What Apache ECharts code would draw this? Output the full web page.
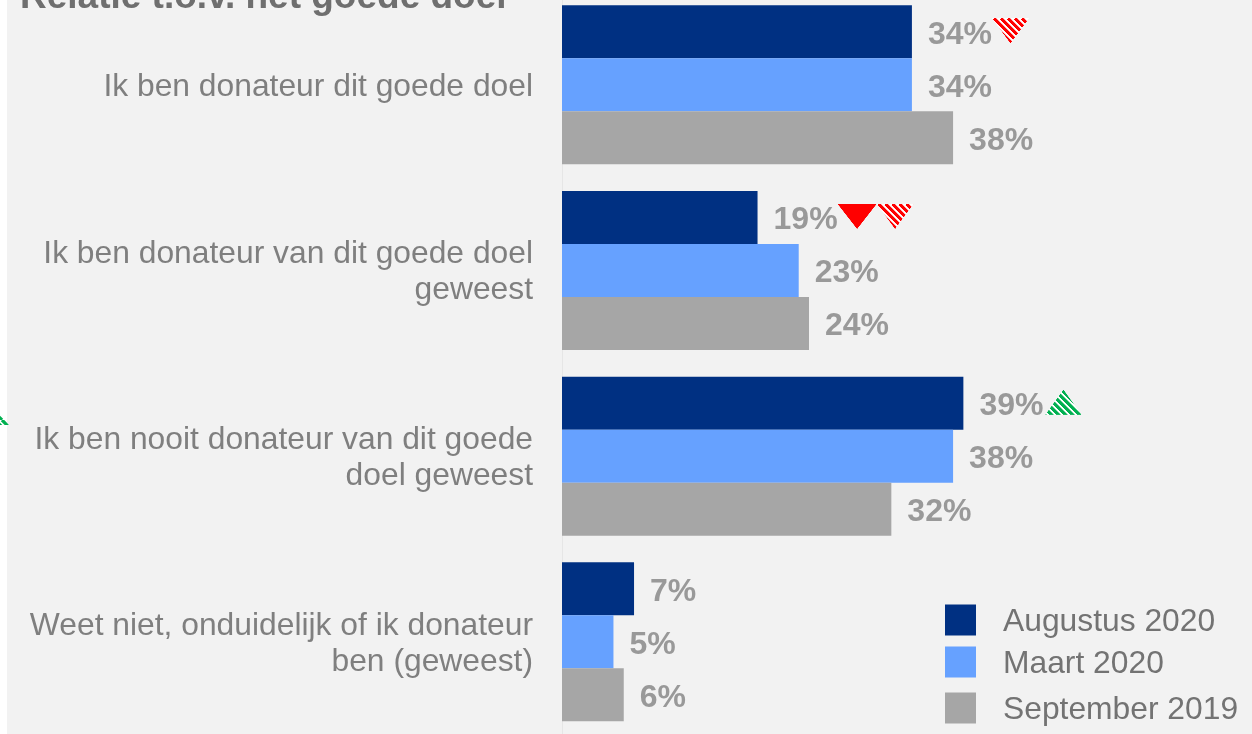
<!DOCTYPE html>
<html><head><meta charset="utf-8">
<style>html,body{margin:0;padding:0;background:#fff}#c{width:1252px;height:734px}</style>
<script src="https://cdn.jsdelivr.net/npm/echarts@6/dist/echarts.min.js"></script>
</head><body><div id="c"></div>
<script>
const categories = ['Ik ben donateur dit goede doel','Ik ben donateur van dit goede doel\ngeweest','Ik ben nooit donateur van dit goede\ndoel geweest','Weet niet, onduidelijk of ik donateur\nben (geweest)'];
const seriesNames = ['Augustus 2020','Maart 2020','September 2019'];
const augustus2020 = [34,19,39,7];
const maart2020 = [34,23,38,5];
const september2019 = [38,24,32,6];
const augustusMarkers = [['hatchDown'],['solidDown','hatchDown'],['hatchUp'],[]];
const colors = ['#003082','#66A1FF','#A6A6A6'];
const legendTops = [602,644,690];

function stripes(g,color,w,h){
  g.fillStyle='#fff';g.fillRect(0,0,w,h);
  g.strokeStyle=color;g.lineWidth=3.2;
  for(let x=2-7*8;x<w+h;x+=7){
    g.beginPath();g.moveTo(x,0);g.lineTo(x+h,h);g.stroke();
  }
}
function triangle(color, up, hatched, w, dx){
  const S=3, triH=25, h=33, total=w+dx;
  const c=document.createElement('canvas'); c.width=total*S; c.height=h*S;
  const g=c.getContext('2d'); g.scale(S,S); g.translate(dx,0);
  g.beginPath();
  if(up){g.moveTo(w/2,0);g.lineTo(w,triH);g.lineTo(0,triH);} else {g.moveTo(0,0);g.lineTo(w,0);g.lineTo(w/2,triH);}
  g.closePath(); g.clip();
  if(!hatched){g.fillStyle=color;g.fillRect(0,0,w,h);return c;}
  stripes(g,color,w,h);
  return c;
}
function patch(color){
  const c=document.createElement('canvas'); c.width=28; c.height=28;
  const g=c.getContext('2d'); stripes(g,color,28,28); return c;
}
const rich={
  v:{fontFamily:'Liberation Sans',fontWeight:'bold',fontSize:32,color:'#999999'},
  solidDown:{width:39,height:33,backgroundColor:{image:triangle('#FF0000',false,false,39,0)}},
  hatchDown:{width:37,height:33,backgroundColor:{image:triangle('#FF0000',false,true,37,0)}},
  hatchUp:{width:38,height:33,backgroundColor:{image:triangle('#00B050',true,true,36,2)}}
};
function bar(name,data,color,markers){
  return {name,type:'bar',data,barWidth:53,barGap:0,itemStyle:{color},
    label:{show:true,position:'right',distance:16,offset:[0,3],rich,
      formatter:p=>'{v|'+p.value+'%}'+((markers&&markers[p.dataIndex])||[]).map(m=>'{'+m+'|}').join('')}};
}
const chart=echarts.init(document.getElementById('c'),null,{renderer:'canvas'});
chart.setOption({
  animation:false,
  backgroundColor:'#fff',
  title:{text:'Relatie t.o.v. het goede doel',left:20,top:-21,padding:0,
    textStyle:{fontFamily:'Liberation Sans',fontWeight:'bold',fontSize:37,color:'#6F6F6F'}},
  graphic:[
    {type:'rect',z:-10,silent:true,shape:{x:7,y:0,width:1245,height:734},style:{fill:'#F2F2F2'}},
    {type:'polygon',z:-5,silent:true,shape:{points:[[-12,425],[0,414],[9,425]]},style:{fill:{type:'pattern',image:patch('#00B050'),repeat:'repeat'}}}
  ],
  legend:seriesNames.map((n,i)=>({data:[n],left:945,top:legendTops[i],orient:'vertical',padding:0,
    itemWidth:31,itemHeight:31,icon:'rect',selectedMode:false,
    formatter:t=>'{a|'+t+'}',
    textStyle:{rich:{a:{fontFamily:'Liberation Sans',fontSize:31.8,color:'#737373',lineHeight:36,padding:[4,0,0,22]}}}})),
  grid:{left:562,top:-8,width:617.5,height:742.6,outerBoundsMode:'none'},
  xAxis:{type:'value',min:0,max:60,show:false},
  yAxis:{type:'category',inverse:true,data:categories,
    axisTick:{show:false},
    axisLine:{show:true,lineStyle:{color:'#E6E6E6',width:1}},
    axisLabel:{margin:29,align:'right',
      formatter:v=>v.split('\n').map(l=>'{a|'+l+'}').join('\n'),
      rich:{a:{align:'right',fontFamily:'Liberation Sans',fontSize:31.8,lineHeight:36,color:'#7F7F7F',padding:[4,0,0,0]}}}},
  series:[bar(seriesNames[0],augustus2020,colors[0],augustusMarkers),bar(seriesNames[1],maart2020,colors[1]),bar(seriesNames[2],september2019,colors[2])]
});
</script></body></html>
